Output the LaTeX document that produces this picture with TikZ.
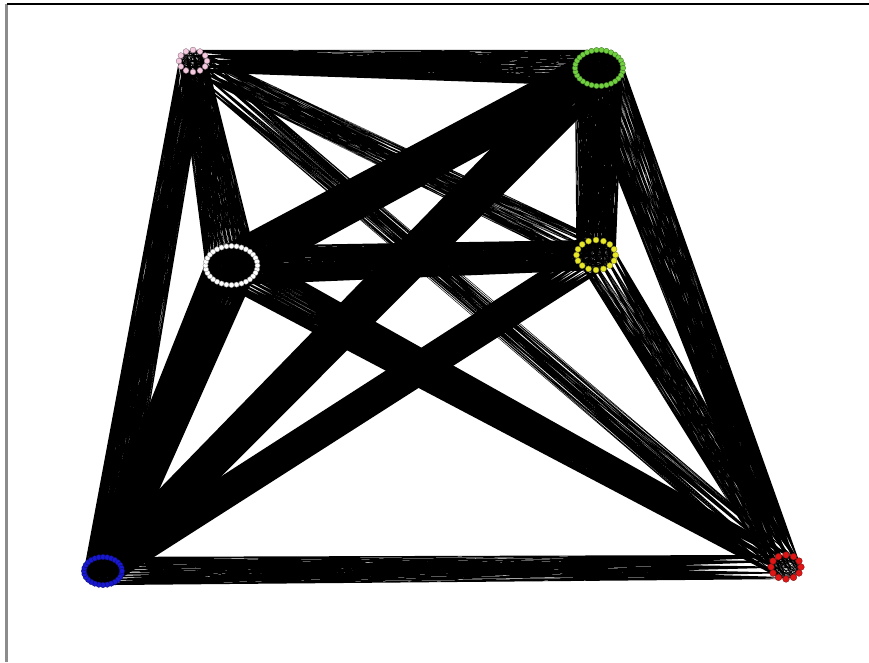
\documentclass[tikz,border=0pt]{standalone}
\usetikzlibrary{backgrounds}
\definecolor{cpink}{RGB}{244,200,222}
\definecolor{cgreen}{RGB}{112,208,64}
\definecolor{cwhite}{RGB}{255,255,255}
\definecolor{cyellow}{RGB}{232,232,40}
\definecolor{cblue}{RGB}{24,24,210}
\definecolor{cred}{RGB}{224,22,22}
\newcommand\mkcluster[8]{% name, cx, cy, rx, ry, n, colour, dot size
  \foreach \k in {1,...,#6}{%
    \node[dotnode, minimum size=#8, fill=#7, draw=#7!55!black] (#1\k) at ({#2+#4*cos(360*\k/#6)},{#3+#5*sin(360*\k/#6)}) {};
  }%
}
\newcommand\mkedges[4]{% A, nA, B, nB
  \draw[edgeline] \foreach \i in {1,...,#2}{ \foreach \j in {1,...,#4}{ (#1\i.center) -- (#3\j.center) } };
}
\begin{document}
\begin{tikzpicture}[x=1pt,y=-1pt,
  dotnode/.style={circle,inner sep=0pt,line width=0.35pt},
  edgeline/.style={line width=0.2pt,black}]
\useasboundingbox (0,0) rectangle (869,662);
\coordinate (tl) at (6.5,4);
\coordinate (tr) at (869,4);
\coordinate (bl) at (6.5,662);
\draw[black!45, line width=2.2pt] (tl) -- (bl);
\draw[black, line width=1.4pt] (tl) -- (tr);
% clusters
\mkcluster{p}{193}{61}{14}{11}{12}{cpink}{5.8pt}
\mkcluster{g}{599}{68}{24}{18}{30}{cgreen}{5.4pt}
\mkcluster{w}{231.5}{265.5}{26}{19.5}{32}{cwhite}{5.2pt}
\mkcluster{y}{596}{255}{19.5}{15}{16}{cyellow}{6pt}
\mkcluster{b}{103}{571}{19}{14}{28}{cblue}{5.4pt}
\mkcluster{r}{786}{567}{15}{12}{12}{cred}{6.6pt}
\begin{scope}[on background layer]
\fill[white] (0,0) rectangle (869,662);
\mkedges{p}{12}{g}{30}
\mkedges{p}{12}{w}{32}
\mkedges{p}{12}{y}{16}
\mkedges{p}{12}{b}{28}
\mkedges{p}{12}{r}{12}
\mkedges{g}{30}{w}{32}
\mkedges{g}{30}{y}{16}
\mkedges{g}{30}{b}{28}
\mkedges{g}{30}{r}{12}
\mkedges{w}{32}{y}{16}
\mkedges{w}{32}{b}{28}
\mkedges{w}{32}{r}{12}
\mkedges{y}{16}{b}{28}
\mkedges{y}{16}{r}{12}
\mkedges{b}{28}{r}{12}
\mkedges{p}{12}{p}{12}
\mkedges{g}{30}{g}{30}
\mkedges{w}{32}{w}{32}
\mkedges{y}{16}{y}{16}
\mkedges{b}{28}{b}{28}
\mkedges{r}{12}{r}{12}
\end{scope}
\end{tikzpicture}
\end{document}
